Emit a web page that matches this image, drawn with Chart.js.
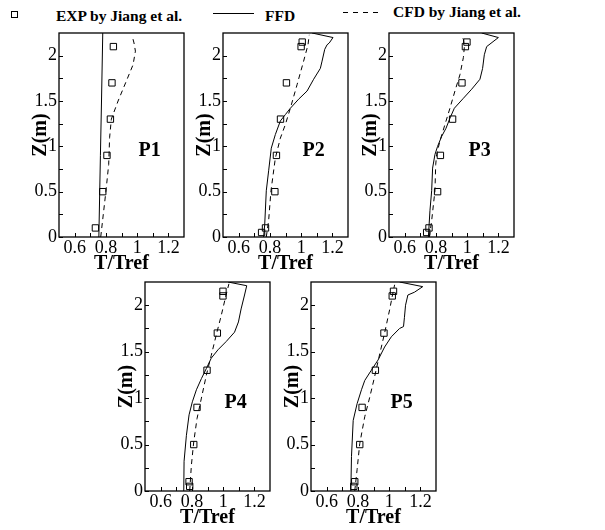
<!DOCTYPE html>
<html>
<head>
<meta charset="utf-8">
<script src="https://cdn.jsdelivr.net/npm/chart.js@4.4.1/dist/chart.umd.min.js"></script>
<style>
  body { margin: 0; width: 605px; height: 530px; position: relative; overflow: hidden; background: #fff;
         font-family: "Liberation Serif", "Times New Roman", serif; }
  .panel { position: absolute; }
  .lg { position: absolute; font-weight: bold; font-size: 15.5px; line-height: 1; white-space: nowrap; color: #000; }
</style>
</head>
<body>

<!-- legend -->
<div style="position:absolute;left:11px;top:11px;width:5px;height:5px;border:1px solid #000;"></div>
<div class="lg" style="left:56px;top:8px;">EXP by Jiang et al.</div>
<div style="position:absolute;left:213px;top:13px;width:41px;height:1px;background:#000;"></div>
<div class="lg" style="left:265px;top:8px;">FFD</div>
<div style="position:absolute;left:343px;top:12px;width:38px;height:1px;background:repeating-linear-gradient(to right,#000 0 5px,transparent 5px 10px);"></div>
<div class="lg" style="left:393px;top:4px;">CFD by Jiang et al.</div>

<canvas id="p1" class="panel" width="187" height="258" style="left:3px;top:19px;"></canvas>
<canvas id="p2" class="panel" width="187" height="258" style="left:167px;top:19px;"></canvas>
<canvas id="p3" class="panel" width="187" height="258" style="left:333px;top:19px;"></canvas>
<canvas id="p4" class="panel" width="187" height="263" style="left:89px;top:268px;"></canvas>
<canvas id="p5" class="panel" width="187" height="263" style="left:255px;top:268px;"></canvas>

<script>
// axes
const xTickValues = [0.6, 0.8, 1, 1.2];
const xMinorTicks = [0.7, 0.9, 1.1];
const yTickValues = [0, 0.5, 1, 1.5, 2];
const yMinorTicks = [0.25, 0.75, 1.25, 1.75];
const panelNames = ['P1', 'P2', 'P3', 'P4', 'P5'];

// [T/Tref, Z] pairs, FFD (solid line)
const ffdP1 = [[0.755, 0], [0.765, 0.9], [0.772, 1.5], [0.78, 2.25]];
const ffdP2 = [[0.76, 0], [0.767, 0.14], [0.777, 0.51], [0.792, 0.73], [0.809, 0.98], [0.835, 1.13], [0.867, 1.28],
               [0.899, 1.35], [0.931, 1.42], [0.984, 1.52], [1.038, 1.61], [1.08, 1.74], [1.123, 1.86], [1.134, 1.94],
               [1.151, 2.07], [1.166, 2.12], [1.18, 2.14], [1.204, 2.2], [1.07, 2.25]];
const ffdP3 = [[0.752, 0], [0.762, 0.29], [0.773, 0.51], [0.779, 0.76], [0.794, 0.91], [0.811, 1.0], [0.837, 1.11],
               [0.865, 1.2], [0.89, 1.31], [0.918, 1.42], [0.976, 1.53], [1.029, 1.63], [1.082, 1.74], [1.099, 1.86],
               [1.11, 2.01], [1.125, 2.1], [1.2, 2.2], [1.093, 2.25]];
const ffdP4 = [[0.748, 0], [0.75, 0.32], [0.765, 0.6], [0.782, 0.82], [0.803, 0.96], [0.829, 1.09], [0.861, 1.21],
               [0.893, 1.32], [0.924, 1.43], [0.967, 1.52], [1.02, 1.61], [1.073, 1.71], [1.098, 1.82], [1.115, 1.96],
               [1.137, 2.11], [1.151, 2.21], [1.031, 2.25]];
const ffdP5 = [[0.755, 0], [0.759, 0.37], [0.77, 0.76], [0.795, 0.94], [0.823, 1.09], [0.844, 1.19], [0.886, 1.3],
               [0.929, 1.41], [0.971, 1.55], [1.014, 1.66], [1.067, 1.75], [1.092, 1.77], [1.098, 1.87], [1.105, 2.0],
               [1.12, 2.11], [1.162, 2.14], [1.215, 2.2], [1.067, 2.25]];

// CFD by Jiang et al. (dashed line)
const cfdP1 = [[0.767, 0], [0.8, 0.5], [0.818, 0.8], [0.824, 1.1], [0.835, 1.3], [0.878, 1.5], [0.931, 1.72],
               [0.974, 1.9], [0.989, 2.05], [0.98, 2.14], [0.968, 2.22]];
const cfdP2 = [[0.777, 0], [0.792, 0.18], [0.807, 0.51], [0.835, 0.87], [0.867, 1.09], [0.899, 1.24], [0.931, 1.42],
               [0.974, 1.68], [1.016, 1.94], [1.044, 2.12], [1.052, 2.23]];
const cfdP3 = [[0.758, 0], [0.773, 0.18], [0.794, 0.51], [0.799, 0.8], [0.805, 0.91], [0.826, 1.06], [0.858, 1.24],
               [0.89, 1.42], [0.922, 1.61], [0.954, 1.79], [0.976, 1.98], [0.982, 2.09], [0.976, 2.18], [0.969, 2.21]];
const cfdP4 = [[0.786, 0], [0.797, 0.28], [0.812, 0.53], [0.833, 0.78], [0.861, 1.0], [0.893, 1.25], [0.924, 1.46],
               [0.956, 1.68], [0.988, 1.89], [1.016, 2.09], [1.037, 2.23]];
const cfdP5 = [[0.78, 0], [0.795, 0.23], [0.812, 0.51], [0.844, 0.8], [0.876, 1.01], [0.907, 1.23], [0.935, 1.44],
               [0.971, 1.7], [1.003, 1.95], [1.024, 2.13], [1.035, 2.22]];

// EXP by Jiang et al. (squares)
const expP1 = [[0.733, 0.1], [0.78, 0.5], [0.807, 0.9], [0.829, 1.3], [0.839, 1.7], [0.848, 2.1]];
const expP2 = [[0.747, 0.05], [0.772, 0.1], [0.832, 0.5], [0.842, 0.9], [0.868, 1.3], [0.906, 1.7], [1.0, 2.1], [1.007, 2.15]];
const expP3 = [[0.741, 0.05], [0.756, 0.1], [0.811, 0.5], [0.829, 0.9], [0.907, 1.3], [0.967, 1.7], [0.989, 2.1], [0.999, 2.15]];
const expP4 = [[0.786, 0.05], [0.782, 0.1], [0.812, 0.5], [0.833, 0.9], [0.897, 1.3], [0.963, 1.7], [0.999, 2.1], [0.999, 2.15]];
const expP5 = [[0.774, 0.05], [0.78, 0.1], [0.812, 0.5], [0.827, 0.9], [0.912, 1.3], [0.967, 1.7], [1.02, 2.1], [1.028, 2.15]];

const FONT = '"Liberation Serif", "Times New Roman", serif';

// frame, inward ticks and the panel name
const framePlugin = {
    id: 'frame',
    afterDraw(chart, args, opts) {
        const { ctx, chartArea: a, scales: { x, y } } = chart;
        ctx.save();
        ctx.strokeStyle = '#000';
        ctx.lineWidth = 1.3;
        ctx.strokeRect(a.left, a.top, a.right - a.left, a.bottom - a.top);
        ctx.lineWidth = 1;
        ctx.beginPath();
        xTickValues.concat(xMinorTicks).forEach(v => {
            const p = Math.round(x.getPixelForValue(v)) + 0.5;
            ctx.moveTo(p, a.bottom); ctx.lineTo(p, a.bottom - 4);
        });
        yTickValues.concat(yMinorTicks).forEach(v => {
            const p = Math.round(y.getPixelForValue(v)) + 0.5;
            ctx.moveTo(a.left, p); ctx.lineTo(a.left + 4, p);
        });
        ctx.stroke();
        ctx.fillStyle = '#000';
        ctx.font = 'bold 20px ' + FONT;
        ctx.textAlign = 'center';
        ctx.textBaseline = 'middle';
        ctx.fillText(opts.label, x.getPixelForValue(1.08), y.getPixelForValue(0.95));
        ctx.restore();
    }
};

const toPts = arr => arr.map(([t, z]) => ({ x: t, y: z }));

function makePanel(id, name, ffd, cfd, exp) {
    new Chart(document.getElementById(id), {
        type: 'scatter',
        data: {
            datasets: [
                { label: 'FFD', data: toPts(ffd), showLine: true, borderColor: '#000', borderWidth: 1,
                  pointRadius: 0, tension: 0 },
                { label: 'CFD by Jiang et al.', data: toPts(cfd), showLine: true, borderColor: '#000', borderWidth: 1,
                  borderDash: [5, 4], pointRadius: 0, tension: 0 },
                { label: 'EXP by Jiang et al.', data: toPts(exp), showLine: false, pointStyle: 'rect', pointRadius: 4.5,
                  borderColor: '#000', borderWidth: 1, backgroundColor: 'rgba(0,0,0,0)' }
            ]
        },
        options: {
            responsive: false,
            animation: false,
            layout: { padding: { top: 14, right: 6, left: 0, bottom: 0 } },
            plugins: { legend: { display: false }, tooltip: { enabled: false }, frame: { label: name } },
            scales: {
                x: {
                    type: 'linear', min: 0.5, max: 1.3,
                    afterBuildTicks: s => { s.ticks = xTickValues.map(v => ({ value: v })); },
                    afterFit: s => { s.height = 40; },
                    grid: { display: false, drawTicks: false },
                    border: { display: false },
                    ticks: { padding: 0, color: '#000', autoSkip: false, maxRotation: 0,
                             font: { family: FONT, size: 18 }, callback: v => String(v) },
                    title: { display: true, text: 'T/Tref', color: '#000',
                             font: { family: FONT, size: 20, weight: 'bold' }, padding: { top: 0, bottom: 1.4 } }
                },
                y: {
                    type: 'linear', min: 0, max: 2.25,
                    afterBuildTicks: s => { s.ticks = yTickValues.map(v => ({ value: v })); },
                    afterFit: s => { s.width = 56; },
                    grid: { display: false, drawTicks: false },
                    border: { display: false },
                    ticks: { padding: 2, color: '#000', autoSkip: false,
                             font: { family: FONT, size: 18 }, callback: v => String(v) },
                    title: { display: true, text: 'Z(m)', color: '#000',
                             font: { family: FONT, size: 20, weight: 'bold' }, padding: { top: 25.4, bottom: 0 } }
                }
            }
        },
        plugins: [framePlugin]
    });
}

makePanel('p1', panelNames[0], ffdP1, cfdP1, expP1);
makePanel('p2', panelNames[1], ffdP2, cfdP2, expP2);
makePanel('p3', panelNames[2], ffdP3, cfdP3, expP3);
makePanel('p4', panelNames[3], ffdP4, cfdP4, expP4);
makePanel('p5', panelNames[4], ffdP5, cfdP5, expP5);
</script>
</body>
</html>
